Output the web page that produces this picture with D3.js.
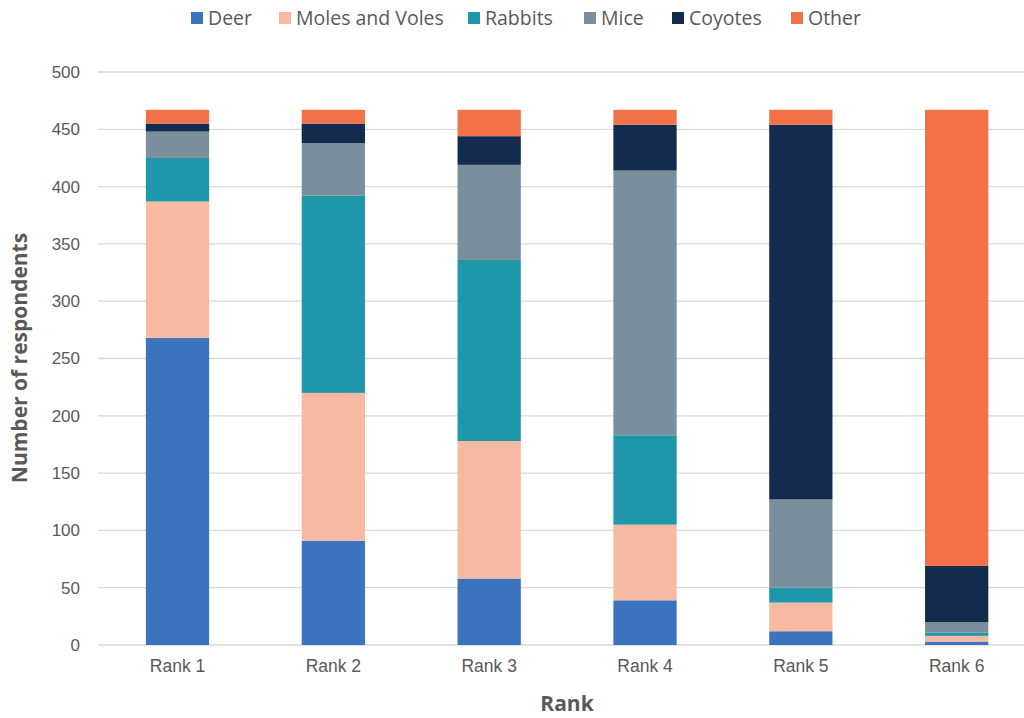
<!DOCTYPE html>
<html>
<head>
<meta charset="utf-8">
<script src="https://cdn.jsdelivr.net/npm/d3@7"></script>
<style>
  html, body { margin: 0; padding: 0; background: #fff; }
  svg { display: block; font-family: "Open Sans", sans-serif; }
</style>
</head>
<body>
<svg id="chart" width="1024" height="718"></svg>
<script>
// Ranks on the x axis
const ranks = ["Rank 1", "Rank 2", "Rank 3", "Rank 4", "Rank 5", "Rank 6"];
// Series (stacked bottom to top)
const seriesNames = ["Deer", "Moles and Voles", "Rabbits", "Mice", "Coyotes", "Other"];
const deer     = [268,  91,  58,  39,  12,   3];
const moles    = [119, 129, 120,  66,  25,   5];
const rabbits  = [ 38, 172, 158,  78,  13,   3];
const mice     = [ 23,  46,  83, 231,  77,   9];
const coyotes  = [  7,  17,  25,  40, 327,  49];
const other    = [ 12,  12,  23,  13,  13, 398];
const seriesColors = ["#3b74bc", "#f8b9a3", "#1f97aa", "#7a8f9b", "#132b4f", "#f27146"];
const yTicks = [0, 50, 100, 150, 200, 250, 300, 350, 400, 450, 500];

const seriesValues = [deer, moles, rabbits, mice, coyotes, other];
const rows = ranks.map((r, i) => {
  const row = { rank: r };
  seriesNames.forEach((s, j) => { row[s] = seriesValues[j][i]; });
  return row;
});

const svg = d3.select("#chart");

const x = d3.scaleBand()
  .domain(ranks)
  .range([99.6, 1034.6])
  .paddingInner(0.594)
  .paddingOuter(0.297);

const y = d3.scaleLinear().domain([0, 500]).range([645, 72]);

const color = d3.scaleOrdinal().domain(seriesNames).range(seriesColors);

// Horizontal gridlines
svg.append("g")
  .selectAll("line")
  .data(yTicks)
  .join("line")
  .attr("x1", 98)
  .attr("x2", 1024)
  .attr("y1", d => y(d))
  .attr("y2", d => y(d))
  .attr("stroke", "#d9d9d9")
  .attr("stroke-width", 1.3);

// Y axis labels
const yAxis = svg.append("g")
  .attr("transform", "translate(80,0)")
  .call(d3.axisLeft(y).tickValues(yTicks).tickSize(0).tickPadding(0));
yAxis.select(".domain").remove();
yAxis.selectAll("text")
  .attr("fill", "#595959")
  .style("font-size", "17px");

// Stacked bars
const stack = d3.stack().keys(seriesNames);
const layers = stack(rows);

svg.append("g")
  .selectAll("g")
  .data(layers)
  .join("g")
  .attr("fill", d => color(d.key))
  .selectAll("rect")
  .data(d => d)
  .join("rect")
  .attr("x", d => x(d.data.rank))
  .attr("width", x.bandwidth())
  .attr("y", d => y(d[1]))
  .attr("height", d => y(d[0]) - y(d[1]));

// X axis labels
const xAxis = svg.append("g")
  .attr("transform", "translate(0,659)")
  .call(d3.axisBottom(x).tickSize(0).tickPadding(0));
xAxis.select(".domain").remove();
xAxis.selectAll("text")
  .attr("fill", "#595959")
  .attr("dy", "0.75em")
  .style("font-size", "17.5px");

// Axis titles
svg.append("text")
  .attr("x", 567)
  .attr("y", 711)
  .attr("text-anchor", "middle")
  .attr("fill", "#595959")
  .style("font-size", "21px")
  .style("font-weight", "bold")
  .text("Rank");

svg.append("text")
  .attr("transform", "translate(27,358) rotate(-90)")
  .attr("text-anchor", "middle")
  .attr("fill", "#595959")
  .style("font-size", "21px")
  .style("font-weight", "bold")
  .text("Number of respondents");

// Legend
const legendX = [191, 279, 468, 584, 672, 791];
const legend = svg.append("g")
  .selectAll("g")
  .data(seriesNames)
  .join("g")
  .attr("transform", (d, i) => `translate(${legendX[i]},0)`);
legend.append("rect")
  .attr("x", 0)
  .attr("y", 12)
  .attr("width", 12)
  .attr("height", 12)
  .attr("fill", d => color(d));
legend.append("text")
  .attr("x", 17)
  .attr("y", 18)
  .attr("dy", "0.35em")
  .attr("fill", "#595959")
  .style("font-size", "19.5px")
  .text(d => d);
</script>
</body>
</html>
